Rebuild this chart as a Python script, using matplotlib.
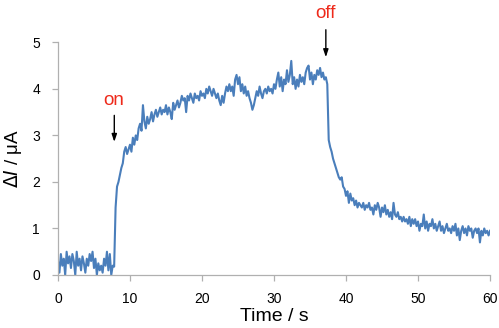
import numpy as np
import matplotlib
matplotlib.use("Agg")
import matplotlib.pyplot as plt

plt.rcParams['font.family'] = ['Liberation Sans', 'DejaVu Sans']

# sampling step of the trace (s)
step = 0.2

# baseline before light on, 0 - 7.8 s
baseline = [0.30, 0.05, 0.45, 0.20, 0.35, 0.00, 0.50, 0.25, 0.40, 0.15,
            0.45, 0.30, 0.00, 0.50, 0.20, 0.35, 0.10, 0.40, 0.25, 0.05,
            0.35, 0.20, 0.45, 0.30, 0.50, 0.15, 0.35, 0.00, 0.25, 0.10,
            0.20, 0.05, 0.35, 0.20, 0.50, 0.10, 0.45, 0.00, 0.20, 0.18]

# rise and plateau, 8.0 - 37.4 s
rising = [1.45, 1.90, 2.00, 2.15, 2.30, 2.40, 2.65, 2.75, 2.60, 2.70,
          2.80, 2.65, 2.95, 2.80, 3.00, 2.90, 3.15, 3.25, 3.10, 3.65,
          3.30, 3.15, 3.40, 3.25, 3.35, 3.50, 3.30, 3.45, 3.55, 3.40,
          3.50, 3.60, 3.45, 3.55, 3.50, 3.65, 3.45, 3.60, 3.50, 3.35,
          3.70, 3.55, 3.65, 3.75, 3.60, 3.70, 3.85, 3.75, 3.80, 3.50,
          3.85, 3.75, 3.90, 3.80, 3.70, 3.90, 3.80, 3.85, 3.75, 3.95,
          3.85, 3.90, 3.80, 4.00, 3.90, 4.05, 3.95, 3.85, 4.00, 3.90,
          3.80, 3.90, 3.75, 3.65, 3.85, 3.70, 3.90, 4.05, 3.95, 4.10,
          3.95, 4.05, 3.85, 4.20, 4.30, 4.10, 4.25, 3.95, 4.10, 3.90,
          4.05, 3.85, 3.95, 3.80, 3.70, 3.55, 3.65, 3.80, 3.95, 3.85,
          4.05, 3.90, 3.80, 3.95, 4.00, 3.90, 4.05, 3.95, 4.00, 3.90,
          4.10, 4.00, 4.20, 4.35, 4.05, 4.25, 3.95, 4.20, 4.10, 4.40,
          4.15, 4.30, 4.60, 4.10, 4.25, 4.00, 4.20, 4.05, 4.30, 4.15,
          4.25, 4.10, 4.35, 4.45, 4.50, 4.20, 4.35, 4.10, 4.30, 4.20,
          4.40, 4.30, 4.45, 4.25, 4.35, 4.20, 4.25, 4.10]

# decay after light off, 37.6 - 60.0 s
decay = [2.90, 2.75, 2.65, 2.50, 2.40, 2.30, 2.20, 2.10, 2.05, 2.10,
         1.90, 1.85, 1.70, 1.80, 1.55, 1.75, 1.60, 1.65, 1.50, 1.60,
         1.45, 1.55, 1.50, 1.45, 1.55, 1.40, 1.50, 1.45, 1.55, 1.40,
         1.45, 1.30, 1.50, 1.40, 1.55, 1.45, 1.25, 1.45, 1.35, 1.50,
         1.30, 1.40, 1.25, 1.35, 1.20, 1.55, 1.30, 1.25, 1.35, 1.20,
         1.25, 1.15, 1.25, 1.15, 1.20, 1.10, 1.25, 1.05, 1.20, 1.10,
         1.20, 1.05, 1.15, 0.95, 1.10, 1.05, 1.30, 1.00, 1.15, 0.95,
         1.10, 1.05, 1.20, 1.00, 1.10, 0.95, 1.05, 1.15, 0.95, 1.05,
         0.90, 1.00, 1.10, 0.95, 1.00, 0.90, 1.05, 0.95, 1.10, 0.85,
         1.00, 0.75, 0.95, 1.05, 0.90, 1.00, 0.85, 1.05, 0.95, 1.00,
         0.80, 0.95, 1.00, 0.90, 1.00, 0.70, 0.95, 0.85, 1.00, 0.90,
         0.95, 0.85, 0.95]

current = np.array(baseline + rising + decay)
time = np.arange(len(current)) * step

x_ticks = [0, 10, 20, 30, 40, 50, 60]
y_ticks = [0, 1, 2, 3, 4, 5]

fig = plt.figure(figsize=(4.99, 3.28), dpi=100)
ax = fig.add_axes([0.1162, 0.1616, 0.8658, 0.7094])

ax.plot(time, current, color='#4a7ebb', lw=1.5)

ax.set_xlim(0, 60)
ax.set_ylim(0, 5)
ax.set_xticks(x_ticks)
ax.set_yticks(y_ticks)

for s in ['top', 'right']:
    ax.spines[s].set_visible(False)
for s in ['left', 'bottom']:
    ax.spines[s].set_color('#b0b0b0')
    ax.spines[s].set_linewidth(0.9)
ax.tick_params(colors='#b0b0b0', labelcolor='black', length=4, width=0.9, labelsize=10)
ax.tick_params(axis='x', pad=8)
ax.tick_params(axis='y', pad=9)

ax.set_xlabel('Time / s', fontsize=14, labelpad=2)
ax.set_ylabel(r'$\Delta$$\mathit{I}$ / μA', fontsize=13.5, labelpad=6)

# on / off markers
ax.annotate('', xy=(7.82, 2.80), xytext=(7.82, 3.49),
            arrowprops=dict(arrowstyle='-|>,head_width=0.15,head_length=0.45', color='black', lw=1))
ax.text(7.73, 3.76, 'on', color='#ee2a1b', fontsize=13.5, ha='center', va='center')
ax.annotate('', xy=(37.2, 4.62), xytext=(37.2, 5.33), annotation_clip=False,
            arrowprops=dict(arrowstyle='-|>,head_width=0.15,head_length=0.45', color='black', lw=1))
ax.text(37.1, 5.61, 'off', color='#ee2a1b', fontsize=13.5, ha='center', va='center', clip_on=False)

fig.savefig('out.png', dpi=100)
